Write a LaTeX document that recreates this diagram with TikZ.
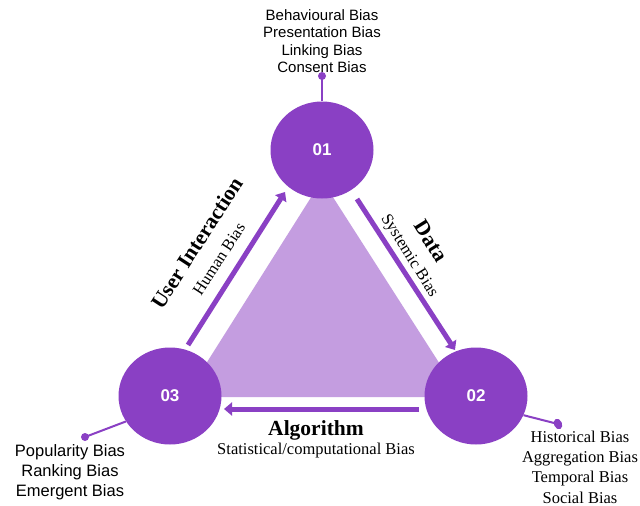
\documentclass[tikz,border=0pt]{standalone}
\usepackage{fontspec}
\setmainfont{Liberation Serif}
\newfontfamily\arial{Liberation Sans}
\usetikzlibrary{shapes.geometric,arrows.meta}
\definecolor{pdark}{HTML}{8A40C4}
\definecolor{plight}{HTML}{C49DE0}
\begin{document}
\begin{tikzpicture}[x=1pt,y=-1pt,
 hub/.style={ellipse,fill=pdark,minimum width=103pt,minimum height=97pt,inner sep=0pt,text=white,font=\arial\bfseries\fontsize{17}{19}\selectfont},
 flow/.style={draw=pdark,line width=5pt,-{Triangle[length=8pt,width=13pt]}},
 pinline/.style={draw=pdark,line width=2pt},
 dotnode/.style={circle,fill=pdark,inner sep=0pt,minimum size=8pt},
 sanslist/.style={align=center,font=\arial\fontsize{15}{17.5}\selectfont},
 sanslistb/.style={align=center,font=\arial\fontsize{16.5}{20}\selectfont},
 seriflist/.style={align=center,font=\fontsize{16.5}{20.3}\selectfont},
 headlbl/.style={font=\bfseries\fontsize{21.5}{24}\selectfont},
 sublbl/.style={font=\fontsize{16.5}{19}\selectfont}
]
\useasboundingbox (0,0) rectangle (640,506);
\fill[white] (0,0) rectangle (640,506);
% triangle
\fill[plight] (322,180) -- (185,397) -- (461,397) -- cycle;
% hubs
\node[hub] (c1) at (322,150) {01};
\node[hub] (c2) at (476,396) {02};
\node[hub] (c3) at (170,396) {03};
% pins
\node[dotnode] (d1) at (322,76) {};
\node[dotnode,ellipse,minimum width=8pt,minimum height=11pt,rotate=25] (d2) at (558,424) {};
\node[dotnode] (d3) at (85,437) {};
\draw[pinline] (c1.north) -- (d1.center);
\draw[pinline] (c2.-22) -- (d2.center);
\draw[pinline] (c3.-150) -- (d3.center);
% arrow endpoints
\coordinate (a1s) at (188,345);
\coordinate (a1e) at (285,192);
\coordinate (a2s) at (357,199);
\coordinate (a2e) at (455,350);
\coordinate (a3s) at (419,409);
\coordinate (a3e) at (224,409);
\draw[flow] (a1s) -- (a1e);
\draw[flow] (a2s) -- (a2e);
\draw[flow] (a3s) -- (a3e);
% labels
\node[sanslist] (t1) at (322,41) {Behavioural Bias\\Presentation Bias\\Linking Bias\\Consent Bias};
\node[sanslistb] (t3) at (70,472) {Popularity Bias\\Ranking Bias\\Emergent Bias};
\node[seriflist] (t2) at (580,467) {Historical Bias\\Aggregation Bias\\Temporal Bias\\Social Bias};
\node[headlbl] (l3) at (316,430) {Algorithm};
\node[sublbl] (s3) at (316,451) {Statistical/computational Bias};
\node[headlbl,rotate=57] (l1) at (197,243) {User Interaction};
\node[sublbl,rotate=57] (s1) at (219,259) {Human Bias};
\node[headlbl,rotate=-58] (l2) at (431,241) {Data};
\node[sublbl,rotate=-58] (s2) at (409,256) {Systemic Bias};
\end{tikzpicture}
\end{document}
